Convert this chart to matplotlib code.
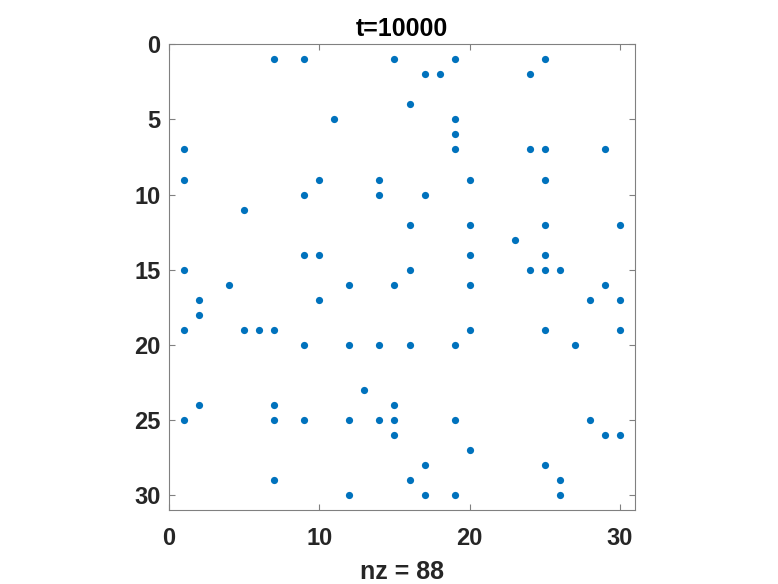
import matplotlib
matplotlib.use('Agg')
import matplotlib.pyplot as plt

# sparsity pattern: column and row index of every nonzero (88 of them)
cols = [7, 9, 15, 19, 25,
        17, 18, 24,
        16,
        11, 19,
        19,
        1, 19, 24, 25, 29,
        1, 10, 14, 20, 25,
        9, 14, 17,
        5,
        16, 20, 25, 30,
        23,
        9, 10, 20, 25,
        1, 16, 24, 25, 26,
        4, 12, 15, 20, 29,
        2, 10, 28, 30,
        2,
        1, 5, 6, 7, 20, 25, 30,
        9, 12, 14, 16, 19, 27,
        13,
        2, 7, 15,
        1, 7, 9, 12, 14, 15, 19, 28,
        15, 29, 30,
        20,
        17, 25,
        7, 16, 26,
        12, 17, 19, 26]
rows = [1] * 5 + [2] * 3 + [4] + [5] * 2 + [6] + [7] * 5 + [9] * 5 + [10] * 3 + \
       [11] + [12] * 4 + [13] + [14] * 4 + [15] * 5 + [16] * 5 + [17] * 4 + [18] + \
       [19] * 7 + [20] * 6 + [23] + [24] * 3 + [25] * 8 + [26] * 3 + [27] + \
       [28] * 2 + [29] * 3 + [30] * 4
n = 30

plt.rcParams['font.family'] = ['Liberation Sans', 'DejaVu Sans']
plt.rcParams['font.weight'] = 'bold'

fig = plt.figure(figsize=(7.78, 5.84), dpi=100)
ax = fig.add_axes([0.2172, 0.1259, 0.599, 0.7988])

ax.plot(cols, rows, 'o', color='#0072BD', markersize=5.2, markeredgewidth=0)

ax.set_xlim(0, n + 1)
ax.set_ylim(n + 1, 0)
ax.set_aspect('equal')
ax.set_xticks([0, 10, 20, 30])
ax.set_yticks([0, 5, 10, 15, 20, 25, 30])

for s in ax.spines.values():
    s.set_color('#808080')
    s.set_linewidth(0.8)
ax.tick_params(direction='in', length=4, width=0.8, color='#808080',
               labelsize=17, labelcolor='#262626', top=True, right=True)
ax.tick_params(axis='x', pad=12)
ax.tick_params(axis='y', pad=6)

ax.set_title('t=10000', fontsize=18, fontweight='bold', pad=6)
ax.set_xlabel('nz = %d' % len(cols), fontsize=18, fontweight='bold',
              color='#262626', labelpad=7)

fig.savefig('out.png', dpi=100)
